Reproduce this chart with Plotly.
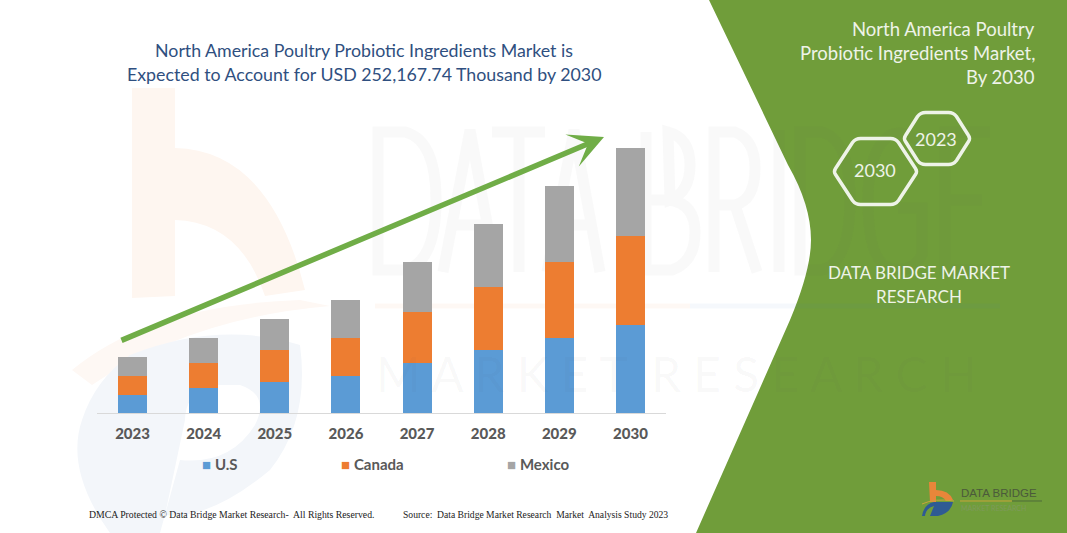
import plotly.graph_objects as go

W, H = 1067, 533
years = ["2023", "2024", "2025", "2026", "2027", "2028", "2029", "2030"]
us = [17100, 23800, 29500, 35200, 47600, 60000, 71400, 83700]
canada = [18100, 23800, 30400, 36200, 48500, 60000, 72300, 84700]
mexico = [18100, 23800, 29500, 36200, 47600, 60000, 72300, 83768]
series_names = ["U.S", "Canada", "Mexico"]
series_colors = ["#5B9BD5", "#ED7D31", "#A5A5A5"]

title_lines = ["North America Poultry Probiotic Ingredients Market is",
               "Expected to Account for USD 252,167.74 Thousand by 2030"]
side_lines = ["North America Poultry", "Probiotic Ingredients Market,", "By 2030"]
FONT = "Lato"


def X(p):
    return p / W


def Y(p):
    return 1 - p / H


def path(d):
    """Turn 'M x y L x y ...' written in page pixels into paper coordinates."""
    out, toks, i = [], d.split(), 0
    while i < len(toks):
        t = toks[i]
        if t.isalpha():
            out.append(t)
            i += 1
        else:
            out.append(f"{X(float(t)):.5f},{Y(float(toks[i + 1])):.5f}")
            i += 2
    return " ".join(out)


def shape(d, fill=None, line=None, width=0, opacity=1, layer="below"):
    s = dict(type="path", xref="paper", yref="paper", path=path(d), layer=layer, opacity=opacity,
             line=dict(width=width, color=line or "rgba(0,0,0,0)"))
    s["fillcolor"] = fill if fill else "rgba(0,0,0,0)"
    return s


def hexagon(cx, cy, rx, ry, cut):
    r = 5
    return (f"M {cx-rx+2} {cy-3} L {cx-rx+cut-3} {cy-ry+4} Q {cx-rx+cut} {cy-ry} {cx-rx+cut+r} {cy-ry} "
            f"L {cx+rx-cut-r} {cy-ry} Q {cx+rx-cut} {cy-ry} {cx+rx-cut+3} {cy-ry+4} "
            f"L {cx+rx-2} {cy-3} Q {cx+rx} {cy} {cx+rx-2} {cy+3} "
            f"L {cx+rx-cut+3} {cy+ry-4} Q {cx+rx-cut} {cy+ry} {cx+rx-cut-r} {cy+ry} "
            f"L {cx-rx+cut+r} {cy+ry} Q {cx-rx+cut} {cy+ry} {cx-rx+cut-3} {cy+ry-4} "
            f"L {cx-rx+2} {cy+3} Q {cx-rx} {cy} {cx-rx+2} {cy-3} Z")


def text(x, y, s, size, color, anchor="center", bold=False, family=FONT):
    return dict(xref="paper", yref="paper", x=X(x), y=Y(y), text=f"<b>{s}</b>" if bold else s,
                showarrow=False, xanchor=anchor, yanchor="middle", borderpad=0,
                font=dict(size=size, color=color, family=family))


fig = go.Figure()
for name, vals, col in zip(series_names, [us, canada, mexico], series_colors):
    fig.add_bar(x=years, y=vals, name=name, marker=dict(color=col, line=dict(width=0)))

wm_gray = "rgba(90,90,90,0.04)"
wm_letters = [
    "M 378 132 L 378 270 L 405 270 Q 436 262 436 200 Q 436 140 405 132 Z",
    "M 443 272 L 470 130 L 496 272 M 452 225 L 488 225",
    "M 492 132 L 545 132 M 519 132 L 519 272",
    "M 547 272 L 574 130 L 600 272 M 556 225 L 592 225",
    "M 646 132 L 646 270 L 672 270 Q 695 262 695 232 Q 695 204 670 200 L 646 200 M 670 200 Q 690 192 690 165 Q 690 138 668 132 Z",
    "M 714 272 L 714 132 L 735 132 Q 755 140 755 168 Q 755 200 735 205 L 714 205 M 735 205 L 757 272",
    "M 779 130 L 779 272",
    "M 800 132 L 800 270 L 822 270 Q 850 262 850 200 Q 850 140 822 132 Z",
    "M 922 145 Q 905 128 890 135 Q 868 150 868 200 Q 868 262 890 268 Q 912 274 922 255 L 922 208 L 898 208",
    "M 990 132 L 945 132 L 945 270 L 990 270 M 945 200 L 982 200",
]

shapes = [
    # faint logo watermark
    shape("M 132 88 L 175 88 L 175 148 Q 270 150 305 290 L 265 296 Q 240 222 175 220 L 175 296 L 132 298 Z",
          fill="#FEF6F0"),
    shape("M 72 370 Q 150 305 300 300 L 330 306 Q 190 318 92 385 Z", fill="#FEF8F4"),
    shape("M 130 355 Q 220 320 300 345 Q 310 420 270 470 Q 210 520 165 515 L 185 420 Q 185 395 210 385 L 240 385 "
          "Q 270 395 255 425 Q 230 465 180 460 L 160 533 L 110 533 Q 65 470 82 420 Q 95 380 130 355 Z",
          fill="#F3F6FA"),
    # right-hand green panel
    shape("M 709 0 L 1067 0 L 1067 533 L 696 533 L 790 320 Q 811 270 811 240 Q 811 205 788 165 Z", fill="#709D3A"),
    # watermark wordmark rule
    shape("M 375 306 L 690 306", line="rgba(237,125,49,0.05)", width=5),
    shape("M 690 306 L 1000 306", line="rgba(68,114,196,0.05)", width=5),
]
shapes += [shape(d, line=wm_gray, width=11) for d in wm_letters]
shapes += [
    shape(hexagon(875.5, 171.5, 42, 33, 22), line="#EEF3E8", width=3.5),
    shape(hexagon(937, 138.5, 33.5, 26, 17), line="#EEF3E8", width=3.5),
    # brand mark, bottom right
    shape("M 929 482 L 936 482 L 936 490 Q 949 490 953 500 L 946 501 Q 943 496 936 496 L 936 502 L 930 502 Z",
          fill="#E9863A"),
    shape("M 922 504 Q 935 498 954 501", line="#C9A53A", width=1),
    shape("M 922 516 Q 924 504 934 502 L 953 502 Q 951 513 938 516 L 930 516 L 934 506 Q 926 508 925 516 Z",
          fill="#2F5B93"),
    shape("M 960 501 L 1012 501", line="#C9A53A", width=1),
    shape("M 1012 501 L 1042 501", line="#4F6C3A", width=1),
]

anns = [text(364, 50 + i * 24, s, 17.8, "#2F4F80") for i, s in enumerate(title_lines)]
anns += [text(1035.5, 29 + i * 24, s, 18.5, "#EEF3E8", anchor="right") for i, s in enumerate(side_lines)]
anns += [
    text(875, 170, "2030", 18, "#EEF3E8"),
    text(936, 139, "2023", 18, "#EEF3E8"),
    text(919, 272, "DATA BRIDGE MARKET", 17, "#EEF3E8"),
    text(919, 296, "RESEARCH", 17, "#EEF3E8"),
    text(88, 514, "DMCA Protected © Data Bridge Market Research-  All Rights Reserved.", 9.75, "#222222",
         anchor="left", family="Liberation Serif"),
    text(402, 514, "Source:  Data Bridge Market Research  Market  Analysis Study 2023", 9.6, "#222222",
         anchor="left", family="Liberation Serif"),
    text(960, 493, "DATA BRIDGE", 11.5, "#4B5A3B", anchor="left", family="Liberation Sans"),
    text(960, 508, "MARKET RESEARCH", 7, "#7E9A5A", anchor="left"),
    text(375, 373, "M A R K E T \u00a0R E S E A R C H", 48, "rgba(90,90,90,0.04)", anchor="left"),
    # growth arrow
    dict(xref="paper", yref="paper", axref="pixel", ayref="pixel", x=X(604), y=Y(137), ax=-484, ay=204,
         text="", showarrow=True, arrowhead=3, arrowsize=1.05, arrowwidth=5.5, arrowcolor="#70AD47",
         standoff=0, startstandoff=0),
]
for name, col, x in zip(series_names, series_colors, [201, 340, 506]):
    anns.append(text(x, 464, f'<span style="color:{col}">■</span> <b>{name}</b>', 15, "#595959", anchor="left"))

fig.update_layout(
    width=W, height=H, autosize=False, barmode="stack", bargap=0.592, showlegend=False,
    margin=dict(l=0, r=0, t=0, b=0), paper_bgcolor="white", plot_bgcolor="rgba(0,0,0,0)",
    xaxis=dict(domain=[X(97), X(666)], type="category", showline=True, linecolor="#D9D9D9", linewidth=1,
               ticks="outside", ticklen=7, tickcolor="rgba(0,0,0,0)", showgrid=False, zeroline=False,
               tickfont=dict(size=15, color="#595959", family=FONT + " Black, " + FONT)),
    yaxis=dict(domain=[Y(413), Y(100)], range=[0, 297850], visible=False, showgrid=False, zeroline=False),
    shapes=shapes, annotations=anns,
)
fig.write_html("out.html", config={"displayModeBar": False}, post_script="document.body.style.margin='0';")
